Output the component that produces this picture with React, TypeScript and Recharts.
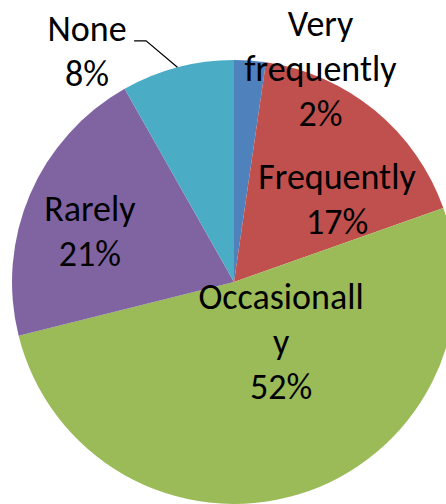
import React from 'react';
import { PieChart, Pie, Cell } from 'recharts';

const categories = ['Very frequently', 'Frequently', 'Occasionally', 'Rarely', 'None'];
const values = [2.3, 17.3, 51.5, 20.7, 8.2];
const percentLabels = ['2%', '17%', '52%', '21%', '8%'];
const labelLines: string[][] = [
  ['Very', 'frequently', '2%'],
  ['Frequently', '17%'],
  ['Occasionall', 'y', '52%'],
  ['Rarely', '21%'],
  ['None', '8%'],
];
const colors = ['#4F81BD', '#C0504D', '#9BBB59', '#8064A2', '#4BACC6'];

// label block centers, in units of outer radius relative to pie center
const labelOffsets = [
  { dx: 0.39, dy: -0.957 },
  { dx: 0.464, dy: -0.369 },
  { dx: 0.212, dy: 0.27 },
  { dx: -0.649, dy: -0.225 },
  { dx: -0.662, dy: -1.038 },
];

const data = categories.map((name, i) => ({ name, value: values[i], pct: percentLabels[i] }));

const FONT = 'Carlito, Lato, sans-serif';
const FONT_SIZE = 36;
const LINE_H = 45;
const CAP = 0.322 * FONT_SIZE;

const RADIAN = Math.PI / 180;

const renderLabel = (props: any) => {
  const { cx, cy, outerRadius, midAngle, index } = props;
  const off = labelOffsets[index];
  const lines = labelLines[index];
  const bx = cx + off.dx * outerRadius;
  const by = cy + off.dy * outerRadius;
  const n = lines.length;
  const elems: any[] = [];
  lines.forEach((t, i) => {
    const y = by + (i - (n - 1) / 2) * LINE_H + CAP;
    elems.push(
      <text key={'t' + i} x={bx} y={y} textAnchor="middle" fontFamily={FONT} fontSize={FONT_SIZE} fill="#000">
        {t}
      </text>
    );
  });
  if (index === 4) {
    const ex = cx + outerRadius * Math.cos(-midAngle * RADIAN);
    const ey = cy + outerRadius * Math.sin(-midAngle * RADIAN);
    const elbowX = cx - 0.396 * outerRadius;
    const elbowY = cy - 1.086 * outerRadius;
    elems.push(
      <polyline
        key="leader"
        points={`${elbowX - 12},${elbowY} ${elbowX},${elbowY} ${ex},${ey}`}
        fill="none"
        stroke="#000"
        strokeWidth={1.2}
      />
    );
  }
  return <g>{elems}</g>;
};

export default function App() {
  return (
    <div style={{ position: 'absolute', left: 0, top: 0, width: 446, height: 504, background: '#fff' }}>
      <PieChart width={446} height={504} margin={{ top: 0, right: 0, bottom: 0, left: 0 }}>
        <Pie
          data={data}
          dataKey="value"
          nameKey="name"
          cx={234}
          cy={282}
          outerRadius={222}
          startAngle={90}
          endAngle={-270}
          stroke="none"
          label={renderLabel}
          labelLine={false}
          isAnimationActive={false}
        >
          {data.map((d, i) => (
            <Cell key={d.name} fill={colors[i]} />
          ))}
        </Pie>
      </PieChart>
    </div>
  );
}
